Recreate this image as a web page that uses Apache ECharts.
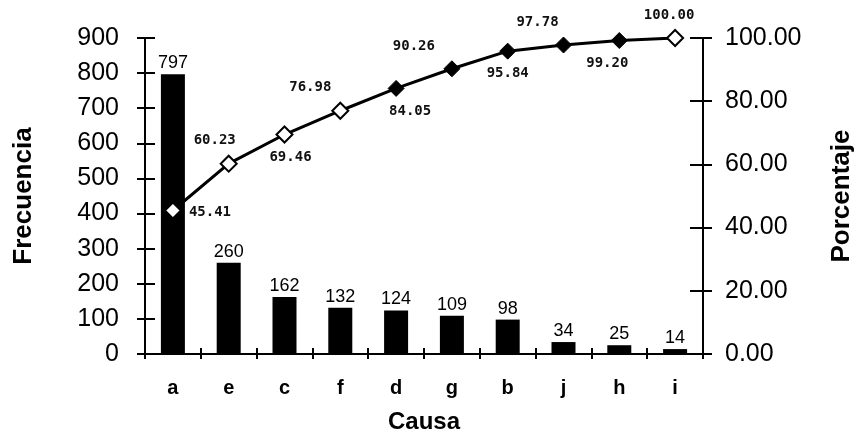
<!DOCTYPE html>
<html>
<head>
<meta charset="utf-8">
<script src="https://cdn.jsdelivr.net/npm/echarts@6/dist/echarts.min.js"></script>
<style>
  html, body { margin: 0; padding: 0; background: #fff; }
  #chart { width: 856px; height: 431px; }
</style>
</head>
<body>
<div id="chart"></div>
<script>
// causes, sorted by frequency
const causas = ['a', 'e', 'c', 'f', 'd', 'g', 'b', 'j', 'h', 'i']
const frecuencia = [797, 260, 162, 132, 124, 109, 98, 34, 25, 14]
const porcentaje = [45.41, 60.23, 69.46, 76.98, 84.05, 90.26, 95.84, 97.78, 99.20, 100.00]
const freqTicks = [0, 900, 100]   // min, max, interval
const pctTicks = [0, 100, 20]

// label placement for the cumulative line (style only)
const lblPos = ['right', 'top', 'bottom', 'top', 'bottom', 'top', 'bottom', 'top', 'bottom', 'top']
const lblOff = [[0, 2], [-14, 0], [6, 0], [-30, 0], [14, 0], [-38, 0], [0, 0], [-26, 0], [-12, 0], [-6, 0]]
const hollow = [0, 1, 2, 3, 9]

const FONT = 'Arial, "Liberation Sans", sans-serif'

const chart = echarts.init(document.getElementById('chart'), null, { renderer: 'canvas' })

const axisLine = { show: true, lineStyle: { color: '#000', width: 2 } }

const option = {
  animation: false,
  backgroundColor: '#fff',
  grid: { left: 145, right: 153, top: 38, bottom: 77, outerBoundsMode: 'none', containLabel: false },
  xAxis: [
    {
      type: 'category',
      data: causas,
      axisLine: axisLine,
      axisTick: { show: true, inside: false, length: 5, lineStyle: { color: '#000', width: 2 } },
      axisLabel: { color: '#000', fontFamily: FONT, fontWeight: 'bold', fontSize: 20, margin: 24 },
      name: 'Causa',
      nameLocation: 'middle',
      nameGap: 56,
      nameTextStyle: { color: '#000', fontFamily: FONT, fontWeight: 'bold', fontSize: 24 }
    },
    {
      type: 'category',
      data: causas,
      position: 'bottom',
      axisLine: { show: false },
      axisTick: { show: true, inside: true, length: 6, lineStyle: { color: '#000', width: 2 } },
      axisLabel: { show: false }
    }
  ],
  yAxis: [
    {
      type: 'value',
      min: freqTicks[0], max: freqTicks[1], interval: freqTicks[2],
      position: 'left',
      axisLine: axisLine,
      axisTick: { show: true, length: 8, lineStyle: { color: '#000', width: 2 } },
      axisLabel: { color: '#000', fontFamily: FONT, fontSize: 25, margin: 26 },
      splitLine: { show: false },
      name: 'Frecuencia',
      nameLocation: 'middle',
      nameGap: 108,
      nameRotate: 90,
      nameTextStyle: { color: '#000', fontFamily: FONT, fontWeight: 'bold', fontSize: 26 }
    },
    {
      type: 'value',
      min: pctTicks[0], max: pctTicks[1], interval: pctTicks[2],
      position: 'right',
      axisLine: axisLine,
      axisTick: { show: true, length: 9, lineStyle: { color: '#000', width: 2 } },
      axisLabel: { color: '#000', fontFamily: FONT, fontSize: 25, margin: 22, formatter: v => v.toFixed(2) },
      splitLine: { show: false },
      name: 'Porcentaje',
      nameLocation: 'middle',
      nameGap: 126,
      nameRotate: 90,
      nameTextStyle: { color: '#000', fontFamily: FONT, fontWeight: 'bold', fontSize: 26 }
    },
    {
      type: 'value',
      min: freqTicks[0], max: freqTicks[1], interval: freqTicks[2],
      position: 'left',
      axisLine: { show: false },
      axisTick: { show: true, inside: true, length: 10, lineStyle: { color: '#000', width: 2 } },
      axisLabel: { show: false },
      splitLine: { show: false }
    },
    {
      type: 'value',
      min: pctTicks[0], max: pctTicks[1], interval: pctTicks[2],
      position: 'right',
      axisLine: { show: false },
      axisTick: { show: true, inside: true, length: 13, lineStyle: { color: '#000', width: 2 } },
      axisLabel: { show: false },
      splitLine: { show: false }
    }
  ],
  series: [
    {
      type: 'bar',
      data: frecuencia,
      barWidth: 24,
      itemStyle: { color: '#000' },
      label: {
        show: true,
        position: 'top',
        distance: 2,
        color: '#000',
        fontFamily: FONT,
        fontSize: 18
      }
    },
    {
      type: 'line',
      yAxisIndex: 1,
      data: porcentaje.map((v, i) => ({
        value: v,
        label: { position: lblPos[i], offset: lblOff[i] },
        itemStyle: hollow.includes(i) ? { color: '#fff', borderColor: '#000', borderWidth: 2 } : { color: '#000' }
      })),
      symbol: 'diamond',
      symbolSize: 16,
      lineStyle: { color: '#000', width: 3 },
      itemStyle: { color: '#000', borderColor: '#000' },
      label: {
        show: true,
        distance: 7,
        color: '#111',
        fontFamily: '"DejaVu Sans Mono", monospace',
        fontWeight: 'bold',
        fontSize: 14,
        formatter: p => p.value.toFixed(2)
      },
      z: 5
    }
  ]
}

chart.setOption(option)
</script>
</body>
</html>
